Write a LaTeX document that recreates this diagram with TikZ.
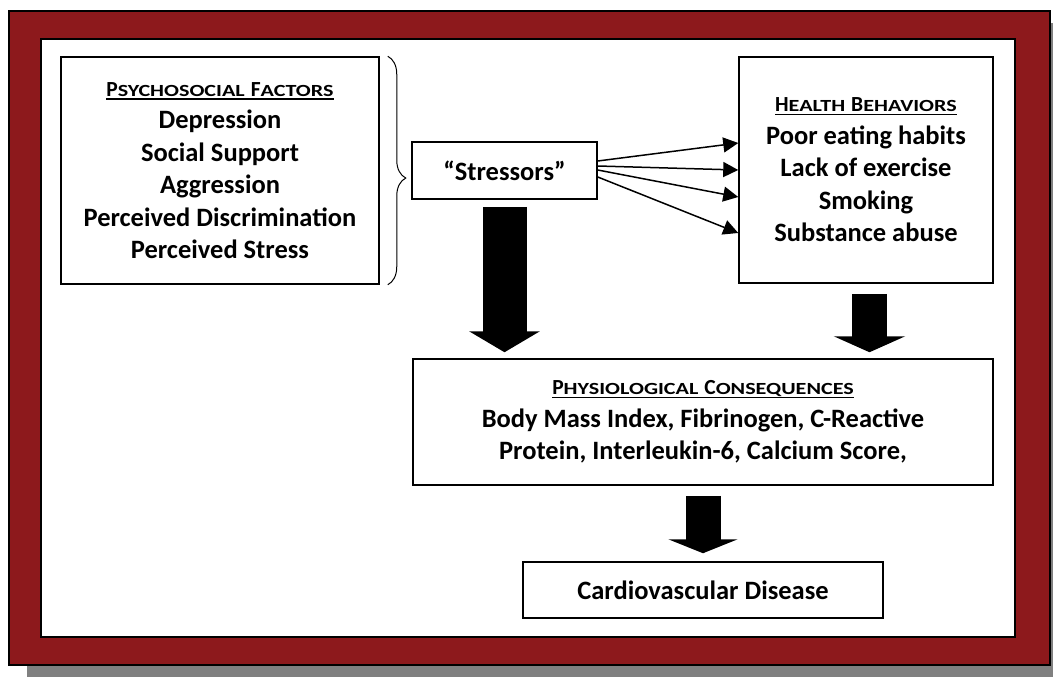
\documentclass[tikz,border=0pt]{standalone}
\usepackage{fontspec}
\setmainfont{Carlito}
\newfontfamily\scfnt{Carlito}[FakeStretch=1.3]
\usetikzlibrary{arrows.meta,calc,decorations.pathreplacing}
\definecolor{frameRed}{HTML}{8D191C}
\definecolor{shadowGrey}{HTML}{808080}
\newcommand\bodyfnt{\fontsize{26.5}{32.5}\selectfont\bfseries}
\newcommand\hdsc[2]{{\fontsize{21.5}{32.5}\selectfont #1}{\scfnt\bfseries\fontsize{17}{32.5}\selectfont #2}}
\newcommand\myul[1]{\setbox0\hbox{#1}\rlap{\rule[-3.5pt]{\wd0}{1.5pt}}\box0}
\tikzset{
  box/.style={draw=black, line width=1.5pt, fill=white, align=center, inner sep=0pt, font=\bodyfnt},
  thinarrow/.style={line width=1.5pt, -{Triangle[length=15pt,width=15pt]}},
  blockarrow/.style={draw=black},
}
\begin{document}
\begin{tikzpicture}[x=1pt,y=-1pt]
\useasboundingbox (0,0) rectangle (1053,677);
\begin{scope}
\clip (0,0) rectangle (1053,677);
% shadow and frame
\fill[shadowGrey] (27,23) rectangle (1070,690);
\filldraw[fill=frameRed, draw=black, line width=1.5pt] (9,11) rectangle (1050,665);
\filldraw[fill=white, draw=black, line width=2pt] (41,39) rectangle (1015,637);
\end{scope}

\node[box, minimum width=318pt, minimum height=227pt] (psy) at (220,170.5)
  {\myul{\hdsc{P}{SYCHOSOCIAL} \hdsc{F}{ACTORS}}\\ Depression\\ Social Support\\ Aggression\\ Perceived Discrimination\\ Perceived Stress};
\node[box, minimum width=185pt, minimum height=57pt] (stress) at (504.5,170.5) {“Stressors”};
\node[box, minimum width=254pt, minimum height=226pt] (health) at (866,170)
  {\myul{\hdsc{H}{EALTH} \hdsc{B}{EHAVIORS}}\\ Poor eating habits\\ Lack of exercise\\ Smoking\\ Substance abuse};
\node[box, minimum width=580pt, minimum height=126pt] (physio) at (703,422)
  {\myul{\hdsc{P}{HYSIOLOGICAL} \hdsc{C}{ONSEQUENCES}}\\ Body Mass Index, Fibrinogen, C-Reactive\\ Protein, Interleukin-6, Calcium Score,};
\node[box, minimum width=360pt, minimum height=56pt] (cvd) at (703,590) {Cardiovascular Disease};

% brace
\draw[line width=1pt, decorate, decoration={brace, amplitude=18pt, aspect=0.533}]
  ($(psy.north east)+(8,0)$) -- ($(psy.south east)+(8,0)$);

% fan arrows
\draw[thinarrow] ($(stress.east)+(0,-9.5)$) -- ($(health.west)+(0,-27)$);
\draw[thinarrow] ($(stress.east)+(0,-4.5)$) -- ($(health.west)+(0,0)$);
\draw[thinarrow] ($(stress.east)+(0,-0.5)$) -- ($(health.west)+(0,27)$);
\draw[thinarrow] ($(stress.east)+(0,6.5)$) -- ($(health.west)+(0,63)$);

% block arrows
\draw[blockarrow, line width=44pt, -{Triangle[width=70pt,length=21pt]}, shorten <=7pt, shorten >=6pt]
  (stress.south) -- (stress.south |- physio.north);
\draw[blockarrow, line width=35pt, -{Triangle[width=71pt,length=16pt]}, shorten <=10pt, shorten >=6pt]
  ($(health.south)+(3.5,0)$) -- ($(health.south |- physio.north)+(3.5,0)$);
\draw[blockarrow, line width=35pt, -{Triangle[width=69pt,length=14pt]}, shorten <=10pt, shorten >=8pt]
  (physio.south) -- (cvd.north);
\end{tikzpicture}
\end{document}
